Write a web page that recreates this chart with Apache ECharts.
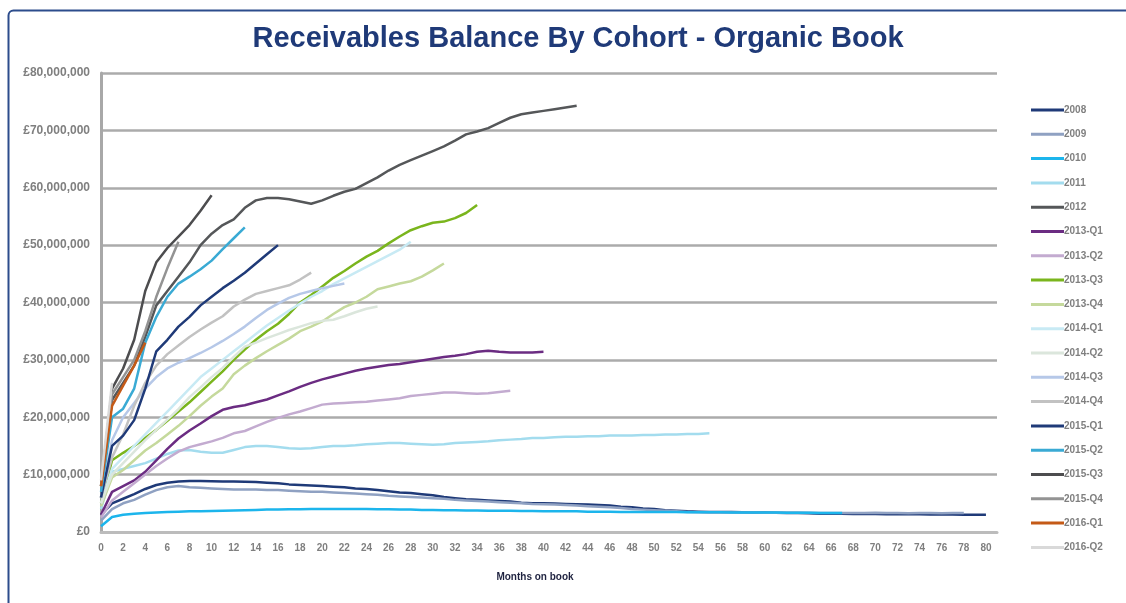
<!DOCTYPE html>
<html>
<head>
<meta charset="utf-8">
<title>Receivables Balance By Cohort - Organic Book</title>
<script src="https://cdn.jsdelivr.net/npm/echarts@6/dist/echarts.min.js"></script>
<style>
  html, body { margin: 0; padding: 0; background: #ffffff; }
  #chart { width: 1126px; height: 603px; }
</style>
</head>
<body>
<div id="chart"></div>
<script>
// Receivables balance (GBP millions) per cohort, one value per month on book (index = month).
const cohorts = ['2008', '2009', '2010', '2011', '2012',
  '2013-Q1', '2013-Q2', '2013-Q3', '2013-Q4',
  '2014-Q1', '2014-Q2', '2014-Q3', '2014-Q4',
  '2015-Q1', '2015-Q2', '2015-Q3', '2015-Q4',
  '2016-Q1', '2016-Q2'];

const cohortColors = ['#1f3a78', '#8fa1c2', '#1cb5ec', '#a3dcee', '#555759',
  '#6b2c82', '#c3abd0', '#7ab51d', '#c5d99c',
  '#c8eaf4', '#dbe6dc', '#b6c8e8', '#c2c2c2',
  '#1f3a78', '#3aaad4', '#4d4d4f', '#939393',
  '#c45a17', '#d9d9d9'];

const bal2008 = [3.0, 5.0, 5.8, 6.6, 7.5, 8.2, 8.6, 8.8, 8.9, 8.9,
  8.85, 8.8, 8.8, 8.75, 8.7, 8.6, 8.5, 8.3, 8.2, 8.1,
  8.0, 7.9, 7.8, 7.6, 7.5, 7.3, 7.1, 6.9, 6.8, 6.6,
  6.4, 6.1, 5.9, 5.7, 5.6, 5.5, 5.4, 5.3, 5.1, 5.0,
  5.0, 4.95, 4.9, 4.85, 4.8, 4.7, 4.6, 4.4, 4.3, 4.1,
  4.0, 3.8, 3.7, 3.6, 3.55, 3.5, 3.5, 3.5, 3.45, 3.4,
  3.4, 3.35, 3.3, 3.3, 3.25, 3.2, 3.2, 3.2, 3.15, 3.15,
  3.15, 3.1, 3.1, 3.1, 3.1, 3.05, 3.05, 3.05, 3.0, 3.0, 3.0];
const bal2009 = [2.0, 4.0, 5.0, 5.6, 6.5, 7.3, 7.8, 8.0, 7.8, 7.7,
  7.6, 7.5, 7.4, 7.4, 7.4, 7.3, 7.3, 7.2, 7.1, 7.0,
  7.0, 6.9, 6.8, 6.7, 6.6, 6.5, 6.3, 6.2, 6.1, 6.0,
  5.9, 5.8, 5.6, 5.5, 5.4, 5.3, 5.2, 5.1, 5.0, 4.9,
  4.85, 4.8, 4.7, 4.6, 4.5, 4.4, 4.3, 4.2, 4.0, 3.9,
  3.8, 3.7, 3.6, 3.5, 3.45, 3.4, 3.4, 3.4, 3.4, 3.4,
  3.35, 3.35, 3.35, 3.35, 3.35, 3.3, 3.3, 3.3, 3.3, 3.3,
  3.35, 3.3, 3.3, 3.25, 3.3, 3.3, 3.25, 3.3, 3.3];
const bal2010 = [1.0, 2.6, 3.0, 3.2, 3.3, 3.4, 3.5, 3.55, 3.6, 3.6,
  3.65, 3.7, 3.75, 3.8, 3.85, 3.9, 3.9, 3.95, 3.95, 4.0,
  4.0, 4.0, 4.0, 4.0, 4.0, 3.95, 3.95, 3.9, 3.9, 3.85,
  3.85, 3.8, 3.8, 3.75, 3.75, 3.7, 3.7, 3.7, 3.65, 3.65,
  3.6, 3.6, 3.6, 3.6, 3.55, 3.55, 3.55, 3.5, 3.5, 3.5,
  3.5, 3.5, 3.5, 3.45, 3.45, 3.45, 3.45, 3.4, 3.4, 3.4,
  3.4, 3.4, 3.35, 3.35, 3.35, 3.3, 3.3, 3.3];
const bal2011 = [4.0, 10.5, 11.0, 11.5, 12.0, 12.8, 13.6, 14.2, 14.3, 14.0,
  13.8, 13.8, 14.3, 14.8, 15.0, 15.0, 14.8, 14.6, 14.5, 14.6,
  14.8, 15.0, 15.0, 15.1, 15.3, 15.4, 15.5, 15.5, 15.4, 15.3,
  15.2, 15.3, 15.5, 15.6, 15.7, 15.8, 16.0, 16.1, 16.2, 16.4,
  16.4, 16.5, 16.6, 16.6, 16.7, 16.7, 16.8, 16.8, 16.8, 16.9,
  16.9, 17.0, 17.0, 17.1, 17.1, 17.2];
const bal2012 = [6.0, 23.0, 26.0, 29.0, 34.0, 39.5, 42.0, 44.5, 47.0, 50.0,
  52.0, 53.5, 54.5, 56.5, 57.8, 58.2, 58.2, 58.0, 57.6, 57.2,
  57.8, 58.6, 59.3, 59.8, 60.8, 61.8, 63.0, 64.0, 64.8, 65.6,
  66.4, 67.2, 68.2, 69.3, 69.8, 70.4, 71.3, 72.2, 72.8, 73.1,
  73.4, 73.7, 74.0, 74.3];
const bal2013Q1 = [3.0, 7.0, 8.0, 9.0, 10.5, 12.5, 14.5, 16.3, 17.7, 18.9,
  20.2, 21.3, 21.8, 22.1, 22.6, 23.1, 23.8, 24.5, 25.3, 26.0,
  26.6, 27.1, 27.6, 28.1, 28.5, 28.8, 29.1, 29.3, 29.6, 29.9,
  30.2, 30.5, 30.7, 31.0, 31.4, 31.6, 31.4, 31.3, 31.3, 31.3, 31.4];
const bal2013Q2 = [2.5, 5.5, 7.0, 8.5, 10.0, 11.5, 12.8, 14.0, 14.8, 15.3,
  15.8, 16.4, 17.2, 17.6, 18.4, 19.2, 19.9, 20.5, 21.0, 21.6,
  22.2, 22.4, 22.5, 22.6, 22.7, 22.9, 23.1, 23.3, 23.7, 23.9,
  24.1, 24.3, 24.3, 24.2, 24.1, 24.2, 24.4, 24.6];
const bal2013Q3 = [5.0, 12.5, 13.8, 15.0, 16.4, 17.8, 19.4, 21.0, 22.6, 24.4,
  26.2, 28.0, 30.0, 31.8, 33.5, 35.0, 36.3, 38.0, 40.0, 41.3,
  42.8, 44.3, 45.5, 46.8, 48.0, 49.0, 50.3, 51.5, 52.6, 53.3,
  53.9, 54.1, 54.7, 55.6, 57.0];
const bal2013Q4 = [4.5, 9.5, 10.8, 12.5, 14.2, 15.5, 17.0, 18.5, 20.2, 22.0,
  23.6, 25.0, 27.5, 29.0, 30.3, 31.5, 32.6, 33.7, 35.0, 35.8,
  36.7, 38.0, 39.2, 40.0, 41.0, 42.3, 42.8, 43.3, 43.7, 44.5,
  45.6, 46.8];
const bal2014Q1 = [5.0, 11.0, 13.0, 15.0, 17.0, 19.0, 21.0, 23.0, 25.0, 27.0,
  28.5, 30.0, 31.5, 33.0, 34.5, 36.0, 37.3, 38.6, 39.8, 41.0,
  42.0, 43.2, 44.2, 45.2, 46.2, 47.2, 48.2, 49.2, 50.6];
const bal2014Q2 = [5.0, 10.0, 12.0, 14.0, 16.0, 17.8, 19.6, 21.4, 23.5, 25.2,
  27.0, 28.6, 30.5, 32.3, 33.0, 33.8, 34.5, 35.2, 35.8, 36.4,
  36.8, 37.0, 37.6, 38.3, 38.9, 39.3];
const bal2014Q3 = [6.0, 16.0, 20.0, 22.5, 25.0, 27.0, 28.5, 29.5, 30.3, 31.2,
  32.2, 33.3, 34.5, 35.8, 37.3, 38.7, 39.8, 40.8, 41.5, 42.0,
  42.5, 42.9, 43.3];
const bal2014Q4 = [6.0, 13.0, 17.0, 22.0, 26.0, 29.0, 31.0, 32.5, 34.0, 35.3,
  36.5, 37.6, 39.3, 40.5, 41.5, 42.0, 42.5, 43.0, 44.0, 45.2];
const bal2015Q1 = [6.0, 15.0, 16.8, 19.5, 25.0, 31.5, 33.5, 35.8, 37.5, 39.5,
  41.0, 42.5, 43.8, 45.2, 46.8, 48.4, 50.0];
const bal2015Q2 = [7.0, 20.0, 21.5, 25.0, 33.0, 37.5, 41.0, 43.3, 44.5, 45.8,
  47.3, 49.3, 51.2, 53.1];
const bal2015Q3 = [8.0, 25.0, 28.5, 33.5, 42.0, 47.0, 49.5, 51.5, 53.5, 56.0, 58.7];
const bal2015Q4 = [8.0, 24.0, 27.0, 30.0, 35.0, 41.0, 46.0, 50.6];
const bal2016Q1 = [8.0, 22.0, 25.5, 29.0, 33.0];
const bal2016Q2 = [9.0, 26.0];

const cohortBalances = [bal2008, bal2009, bal2010, bal2011, bal2012,
  bal2013Q1, bal2013Q2, bal2013Q3, bal2013Q4,
  bal2014Q1, bal2014Q2, bal2014Q3, bal2014Q4,
  bal2015Q1, bal2015Q2, bal2015Q3, bal2015Q4,
  bal2016Q1, bal2016Q2];

const monthTickStep = 2;      // month labels 0, 2, ... 80
const lastLabelledMonth = 80;
const balanceTickStep = 10;   // £10m gridlines

const labelFont = '"Liberation Sans", Arial, sans-serif';

const series = cohorts.map((name, i) => ({
  name: name,
  type: 'line',
  showSymbol: false,
  symbol: 'none',
  smooth: false,
  data: cohortBalances[i].map((v, m) => [m, v]),
  lineStyle: { color: cohortColors[i], width: 2.5 },
  itemStyle: { color: cohortColors[i] },
  emphasis: { disabled: true }
}));

const chart = echarts.init(document.getElementById('chart'), null, { renderer: 'canvas' });

chart.setOption({
  animation: false,
  backgroundColor: '#ffffff',
  graphic: [{
    type: 'rect',
    left: 6, top: 8,
    shape: { width: 1140, height: 620, r: 5 },
    style: { fill: 'none', stroke: '#2c4c8c', lineWidth: 2 },
    silent: true,
    z: -10
  }],
  title: {
    text: 'Receivables Balance By Cohort - Organic Book',
    left: 573, top: 19,
    textAlign: 'center',
    textStyle: {
      fontFamily: labelFont,
      fontSize: 29,
      fontWeight: 'bold',
      color: '#1f3a78'
    }
  },
  legend: {
    orient: 'vertical',
    left: 1026, top: 98,
    itemWidth: 33, itemHeight: 3,
    itemGap: 10.3,
    icon: 'rect',
    textStyle: {
      fontFamily: labelFont,
      fontSize: 10,
      fontWeight: 'bold',
      color: '#7f7f7f',
      lineHeight: 14,
      padding: [0, 0, 0, -5]
    },
    data: cohorts
  },
  grid: { left: 101, right: 129, top: 73, bottom: 71, containLabel: false },
  xAxis: {
    type: 'value',
    min: 0,
    max: lastLabelledMonth + 1,
    interval: monthTickStep,
    name: 'Months on book',
    nameLocation: 'middle',
    nameGap: 40,
    nameTextStyle: {
      fontFamily: labelFont, fontSize: 10, fontWeight: 'bold', color: '#1f2340',
      padding: [0, 0, 0, -28]
    },
    axisLine: { show: true, lineStyle: { color: '#bcbcbc', width: 3 } },
    axisTick: { show: false },
    splitLine: { show: false },
    axisLabel: {
      showMaxLabel: false,
      margin: 11,
      fontFamily: labelFont, fontSize: 10, fontWeight: 'bold', color: '#7f7f7f',
      formatter: v => (v <= lastLabelledMonth ? String(v) : '')
    }
  },
  yAxis: {
    type: 'value',
    min: 0,
    max: 80,
    interval: balanceTickStep,
    axisLine: { show: true, onZero: false, lineStyle: { color: '#a8a8a8', width: 3 } },
    axisTick: { show: false },
    splitLine: { show: true, lineStyle: { color: '#ababab', width: 2.5 } },
    axisLabel: {
      margin: 11,
      fontFamily: labelFont, fontSize: 12, fontWeight: 'bold', color: '#7f7f7f',
      formatter: v => '£' + (v * 1e6).toLocaleString('en-GB')
    }
  },
  series: series
});
</script>
</body>
</html>
